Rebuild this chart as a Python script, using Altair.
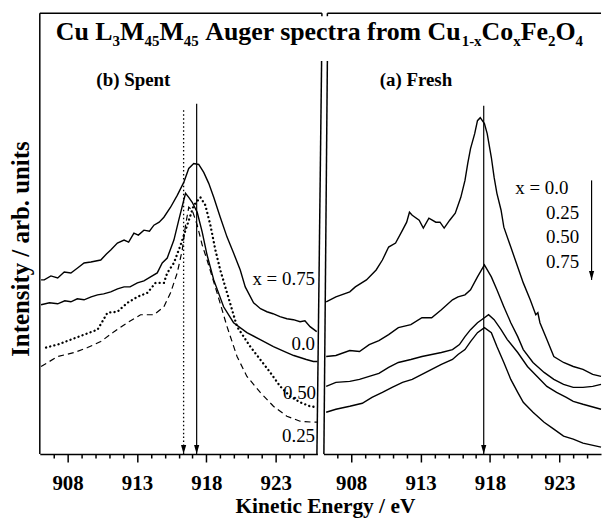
import altair as alt
import pandas as pd

# ---------------- data ----------------
ENERGY_DOMAIN = [906, 926]
INT_DOMAIN = [0, 443]
MINOR_TICKS = list(range(907, 926))

# (b) Spent  -- left panel
spent_075_ev = [906.09, 906.32, 906.8, 907.29, 907.76, 908.24, 908.72, 909.19, 909.68, 910.39, 910.8, 911.11, 911.59,
                912.07, 912.4, 912.78, 913.1, 913.5, 913.9, 914.22, 914.6, 914.94, 915.42, 915.9, 916.37, 916.73,
                917.09, 917.45, 917.81, 918.17, 918.53, 919.0, 919.49, 919.96, 920.44, 920.8, 921.4, 921.9, 922.36,
                922.8, 923.3, 923.8, 924.27, 924.75, 925.1, 925.47, 925.95]
spent_075_int = [175, 175, 179, 177, 183, 182, 187, 192, 193, 195, 201, 205, 212,
                 215, 213, 222, 220, 225, 224, 230, 233, 238, 248, 260, 273, 287,
                 292, 291, 283, 272, 258, 238, 218, 202, 185, 168, 152, 146, 143,
                 141, 138, 136, 135, 133, 134, 128, 123]

spent_000_ev = [906.09, 906.7, 907.29, 907.8, 908.24, 908.7, 909.19, 909.7, 910.16, 910.6, 911.11, 911.6, 912.07,
                912.5, 913.03, 913.5, 913.98, 914.46, 914.82, 915.18, 915.66, 916.01, 916.37, 916.5, 916.73, 916.98,
                917.34, 917.7, 918.05, 918.53, 919.24, 919.96, 920.92, 921.88, 922.83, 923.8, 924.3, 924.75, 925.2,
                925.71, 926.0]
spent_000_int = [150, 152, 151, 154, 153, 156, 155, 158, 160, 161, 163, 166, 168,
                 168, 172, 174, 178, 182, 192, 197, 215, 235, 255, 262, 258, 253,
                 243, 223, 200, 175, 148, 132, 122, 115, 108, 102, 99, 97, 95,
                 93, 93]

spent_050_ev = [906.45, 907.29, 908.24, 909.19, 910.16, 910.5, 910.87, 911.59, 912.31, 913.03, 913.75, 914.34,
                914.94, 915.18, 915.66, 916.14, 916.62, 917.09, 917.57, 917.93, 918.29, 918.65, 919.0, 919.49,
                920.21, 921.16, 921.88, 922.6, 923.32, 924.03, 924.75, 925.47, 925.97]
spent_050_int = [107, 110, 115, 120, 125, 133, 142, 143, 152, 158, 162, 172,
                 172, 182, 192, 210, 230, 250, 258, 250, 230, 205, 185, 162,
                 128, 108, 95, 82, 68, 58, 52, 48, 47]

spent_025_ev = [906.09, 907.29, 908.48, 909.44, 910.39, 911.35, 912.31, 913.26, 914.22, 914.94, 915.42, 915.9,
                916.26, 916.5, 916.73, 916.98, 917.34, 917.7, 918.05, 918.77, 919.49, 920.21, 920.92, 921.88,
                922.83, 923.8, 924.75, 925.71, 925.97]
spent_025_int = [88, 98, 102, 107, 113, 123, 132, 140, 140, 148, 162, 182,
                 205, 230, 248, 245, 230, 210, 195, 162, 128, 98, 78, 62,
                 48, 38, 33, 32, 32]

# (a) Fresh  -- right panel
fresh_000_ev = [906.2, 906.9, 907.9, 908.3, 909.1, 909.8, 910.25, 910.7, 911.2, 911.7, 912.0, 912.2, 912.4, 912.9,
                913.2, 913.6, 914.1, 914.4, 914.7, 915.1, 915.5, 915.7, 915.9, 916.2, 916.4, 916.6, 916.9, 917.1,
                917.3, 917.6, 917.8, 918.1, 918.3, 918.5, 918.8, 919.0, 919.5, 920.0, 920.4, 920.9, 921.3, 921.45,
                921.6, 922.1, 922.6, 923.3, 924.0, 924.7, 925.4, 926.0]
fresh_000_int = [153, 158, 163, 168, 175, 185, 195, 208, 212, 225, 233, 243, 240, 235,
                 227, 237, 233, 233, 227, 235, 242, 250, 258, 275, 292, 307, 322, 335,
                 338, 332, 322, 298, 278, 262, 245, 228, 208, 188, 172, 155, 140, 142,
                 132, 115, 98, 92, 88, 85, 80, 78]

fresh_025_ev = [906.2, 906.9, 907.9, 908.6, 909.3, 910.0, 910.7, 911.4, 912.3, 913.1, 913.8, 914.5, 915.3, 915.7,
                916.2, 916.6, 917.1, 917.6, 918.1, 918.5, 919.0, 919.5, 920.0, 920.4, 921.1, 921.9, 922.6, 923.3,
                924.0, 924.7, 925.4, 926.0]
fresh_025_int = [98, 99, 104, 103, 110, 114, 120, 127, 130, 137, 137, 145, 155, 158,
                 160, 165, 178, 190, 178, 165, 148, 132, 118, 105, 92, 82, 75, 70,
                 67, 67, 68, 70]

fresh_050_ev = [906.2, 906.9, 907.9, 908.6, 909.3, 910.0, 910.7, 911.4, 912.3, 913.1, 913.8, 914.5, 915.3, 915.8,
                916.2, 916.6, 917.1, 917.4, 917.9, 918.3, 918.8, 919.25, 920.0, 920.7, 921.4, 922.1, 922.8, 923.5,
                924.0, 924.7, 926.0]
fresh_050_int = [68, 72, 73, 75, 78, 81, 87, 92, 95, 98, 100, 102, 105, 110,
                 118, 125, 132, 135, 140, 135, 125, 115, 102, 88, 78, 68, 62, 57,
                 53, 50, 45]

fresh_075_ev = [906.2, 906.9, 907.9, 908.8, 909.5, 910.25, 910.95, 911.7, 912.4, 913.1, 913.8, 914.5, 915.3, 915.7,
                916.2, 916.6, 917.1, 917.6, 918.1, 918.5, 919.0, 919.5, 920.0, 920.4, 921.1, 921.9, 922.6, 923.3,
                924.0, 924.7, 926.0]
fresh_075_int = [42, 45, 48, 51, 57, 62, 67, 72, 75, 80, 85, 90, 95, 100,
                 105, 113, 122, 127, 122, 108, 92, 75, 62, 52, 42, 32, 25, 18,
                 15, 11, 7]

# peak-marker arrows
spent_arrow_ev = [916.36, 917.3]
spent_arrow_top = [347, 352]
spent_arrow_style = ["dotted", "solid"]
fresh_arrow_ev = [917.55]
fresh_arrow_top = [350]

# curve labels
spent_label_text = ["x = 0.75", "0.0", "0.50", "0.25"]
spent_label_ev = [925.83, 925.83, 925.9, 925.83]
spent_label_int = [170, 105, 55, 12]

fresh_legend_text = ["x = 0.0", "0.25", "0.50", "0.75"]
fresh_legend_ev = [919.82, 922.04, 922.04, 922.04]
fresh_legend_int = [261, 236, 212, 187]
fresh_legend_arrow_ev = [925.32]
fresh_legend_arrow_top = [275]
fresh_legend_arrow_bottom = [175]

title_parts = [("Cu L", False), ("3", True), ("M", False), ("45", True), ("M", False), ("45", True),
               (" Auger spectra from Cu", False), ("1-x", True), ("Co", False), ("x", True),
               ("Fe", False), ("2", True), ("O", False), ("4", True)]

# ---------------- helpers ----------------
SERIF = "Liberation Serif"
W, H = 279, 443
ORIGIN_X = 39  # absolute x of the left panel


def long_df(items):
    rows = []
    for name, evs, ints in items:
        for e, v in zip(evs, ints):
            rows.append({"series": name, "ev": e, "I": v})
    return pd.DataFrame(rows)


x_axis = alt.Axis(values=MINOR_TICKS, title=None, grid=False, format="d",
                  labelExpr="(datum.value - 908) % 5 === 0 ? datum.label : ''",
                  tickSize={"condition": {"test": "(datum.value - 908) % 5 === 0", "value": 8}, "value": 4},
                  tickWidth=1.5, tickColor="black", domainColor="black", domainWidth=1.5,
                  labelFont=SERIF, labelFontWeight="bold", labelFontSize=21, labelColor="black",
                  labelPadding=11, labelOverlap=False, labelFlush=False)
X = alt.X("ev:Q", scale=alt.Scale(domain=ENERGY_DOMAIN, nice=False, zero=False), axis=x_axis)
Y = alt.Y("I:Q", scale=alt.Scale(domain=INT_DOMAIN, nice=False, zero=True), axis=None)

ARROW_HEAD = "M-2.6,-9L2.6,-9L0,0Z"
one = pd.DataFrame({"a": [0]})


def vrule(x1, y1, x2, y2, w=1.5):
    return alt.Chart(one).mark_rule(color="black", strokeWidth=w).encode(
        x=alt.value(x1), y=alt.value(y1), x2=alt.value(x2), y2=alt.value(y2))


def ptext(s, x, y, size, weight="bold", align="left", angle=0):
    return alt.Chart(one).mark_text(text=s, font=SERIF, fontSize=size, fontWeight=weight,
                                    color="black", align=align, baseline="alphabetic", angle=angle).encode(
        x=alt.value(x), y=alt.value(y))


def lines(df, names, **style):
    return alt.Chart(df).transform_filter(
        alt.FieldOneOfPredicate(field="series", oneOf=names)
    ).mark_line(color="black", **style).encode(x=X, y=Y, detail="series:N")


# ---------------- left panel: (b) Spent ----------------
spent = long_df([("0.75", spent_075_ev, spent_075_int), ("0.0", spent_000_ev, spent_000_int),
                 ("0.50", spent_050_ev, spent_050_int), ("0.25", spent_025_ev, spent_025_int)])
spent_arrows = pd.DataFrame({"ev": spent_arrow_ev, "top": spent_arrow_top, "style": spent_arrow_style,
                             "I": [0] * len(spent_arrow_ev)})
spent_labels = pd.DataFrame({"t": spent_label_text, "ev": spent_label_ev, "I": spent_label_int})

left_layers = [
    lines(spent, ["0.75", "0.0"], strokeWidth=1.4),
    lines(spent, ["0.50"], strokeWidth=2.3, strokeDash=[0.1, 4.2], strokeCap="round"),
    lines(spent, ["0.25"], strokeWidth=1.2, strokeDash=[6, 4]),
    alt.Chart(spent_arrows).transform_filter("datum.style == 'solid'").mark_rule(color="black", strokeWidth=1.2)
       .encode(x=X, y=Y, y2="top:Q"),
    alt.Chart(spent_arrows).transform_filter("datum.style == 'dotted'").mark_rule(color="black", strokeWidth=1.3,
                                                                                   strokeDash=[1.5, 2.5])
       .encode(x=X, y=Y, y2="top:Q"),
    alt.Chart(spent_arrows).mark_point(shape=ARROW_HEAD, size=4, filled=True, color="black", opacity=1)
       .encode(x=X, y=Y),
    alt.Chart(spent_labels).mark_text(font=SERIF, fontSize=19, align="right", baseline="alphabetic", color="black")
       .encode(x=X, y=Y, text="t:N"),
    # frame
    vrule(0, 0, 0, H),
    vrule(0, 0, 283.5, 0),
    vrule(283.5, 0, 283.5, 3),
    vrule(283.2, 48, 278.5, H),
    # texts
    ptext("(b) Spent", 133 - ORIGIN_X, 85 - 12, 19, align="center"),
    ptext("Intensity / arb. units", -10.5, 237, 25, align="center", angle=270),
    ptext("Kinetic Energy / eV", 326 - ORIGIN_X, 502, 21.5, align="center"),
]

# title composed of main text and subscripts (Vega trims leading spaces, so advance the cursor instead)
MAIN, SUB, SUB_DY = 26, 15, 6.5
tnr_bold = {" ": 250, "-": 333, "A": 722, "C": 722, "F": 611, "L": 667, "M": 944, "O": 778, "a": 500, "c": 444,
            "e": 444, "f": 333, "g": 500, "m": 833, "o": 500, "p": 556, "r": 444, "s": 389, "t": 333, "u": 556,
            "x": 500}
widths = [sum(tnr_bold.get(ch, 500) for ch in s) / 1000 * (SUB if sub else MAIN) for s, sub in title_parts]
cursor = 320 - sum(widths) / 2 - ORIGIN_X
for (s, sub), w in zip(title_parts, widths):
    size = SUB if sub else MAIN
    lead = (len(s) - len(s.lstrip(" "))) * tnr_bold[" "] / 1000 * size
    left_layers.append(ptext(s.strip(" "), cursor + lead, 26.5 + (SUB_DY if sub else 0), size))
    cursor += w

left = alt.layer(*left_layers).properties(width=W, height=H)

# ---------------- right panel: (a) Fresh ----------------
fresh = long_df([("0.0", fresh_000_ev, fresh_000_int), ("0.25", fresh_025_ev, fresh_025_int),
                 ("0.50", fresh_050_ev, fresh_050_int), ("0.75", fresh_075_ev, fresh_075_int)])
fresh_arrows = pd.DataFrame({"ev": fresh_arrow_ev, "top": fresh_arrow_top, "I": [0] * len(fresh_arrow_ev)})
fresh_legend = pd.DataFrame({"t": fresh_legend_text, "ev": fresh_legend_ev, "I": fresh_legend_int})
legend_arrow = pd.DataFrame({"ev": fresh_legend_arrow_ev, "top": fresh_legend_arrow_top,
                             "I": fresh_legend_arrow_bottom})

right_layers = [
    lines(fresh, ["0.0", "0.25", "0.50", "0.75"], strokeWidth=1.4),
    alt.Chart(fresh_arrows).mark_rule(color="black", strokeWidth=1.2).encode(x=X, y=Y, y2="top:Q"),
    alt.Chart(fresh_arrows).mark_point(shape=ARROW_HEAD, size=4, filled=True, color="black", opacity=1)
       .encode(x=X, y=Y),
    alt.Chart(legend_arrow).mark_rule(color="black", strokeWidth=1.2).encode(x=X, y=Y, y2="top:Q"),
    alt.Chart(legend_arrow).mark_point(shape=ARROW_HEAD, size=4, filled=True, color="black", opacity=1)
       .encode(x=X, y=Y),
    alt.Chart(fresh_legend).mark_text(font=SERIF, fontSize=19, align="left", baseline="alphabetic", color="black")
       .encode(x=X, y=Y, text="t:N"),
    vrule(4, 0, W, 0),
    vrule(4, 0, 4, 3),
    vrule(4, 48, 0.5, H),
    ptext("(a) Fresh", 417 - 324, 85 - 12, 19, align="center"),
]
right = alt.layer(*right_layers).properties(width=W, height=H)

chart = alt.hconcat(left, right, spacing=6, bounds="flush").configure_view(stroke=None).properties(
    padding={"left": 9, "top": 11, "right": 0, "bottom": 0})

chart.save("out.html", embed_options={"renderer": "svg", "actions": False})
